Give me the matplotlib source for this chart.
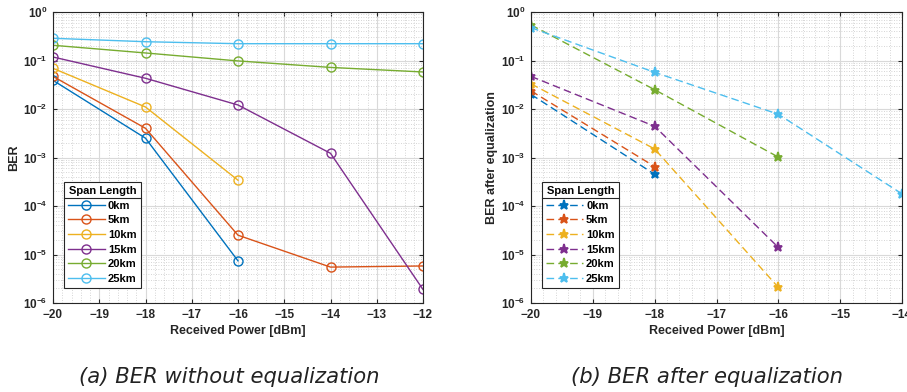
import matplotlib
matplotlib.use("Agg")
import matplotlib.pyplot as plt
from matplotlib.lines import Line2D
from matplotlib.ticker import LogLocator, NullFormatter, MultipleLocator

plt.rcParams['font.family'] = ['Liberation Sans', 'DejaVu Sans']

labels = ['0km', '5km', '10km', '15km', '20km', '25km']
colors = ['#0072BD', '#D95319', '#EDB120', '#7E2F8E', '#77AC30', '#4DBEEE']

# (a) BER without equalization
x_a = {
    '0km': [-20, -18, -16],
    '5km': [-20, -18, -16, -14, -12],
    '10km': [-20, -18, -16],
    '15km': [-20, -18, -16, -14, -12],
    '20km': [-20, -18, -16, -14, -12],
    '25km': [-20, -18, -16, -14, -12],
}
ber_a_0km = [0.039, 0.0025, 7.4e-6]
ber_a_5km = [0.047, 0.004, 2.5e-5, 5.5e-6, 5.8e-6]
ber_a_10km = [0.069, 0.011, 3.4e-4]
ber_a_15km = [0.118, 0.043, 0.0121, 0.00122, 1.9e-6]
ber_a_20km = [0.206, 0.143, 0.098, 0.072, 0.058]
ber_a_25km = [0.287, 0.244, 0.222, 0.222, 0.222]
ber_a = [ber_a_0km, ber_a_5km, ber_a_10km, ber_a_15km, ber_a_20km, ber_a_25km]

# (b) BER after equalization
x_b = {
    '0km': [-20, -18],
    '5km': [-20, -18],
    '10km': [-20, -18, -16],
    '15km': [-20, -18, -16],
    '20km': [-20, -18, -16],
    '25km': [-20, -18, -16, -14],
}
ber_b_0km = [0.020, 4.5e-4]
ber_b_5km = [0.0236, 6.5e-4]
ber_b_10km = [0.033, 0.0015, 2.1e-6]
ber_b_15km = [0.047, 0.0044, 1.4e-5]
ber_b_20km = [0.54, 0.025, 1.02e-3]
ber_b_25km = [0.475, 0.057, 0.0078, 1.78e-4]
ber_b = [ber_b_0km, ber_b_5km, ber_b_10km, ber_b_15km, ber_b_20km, ber_b_25km]

fig = plt.figure(figsize=(9.07, 3.92), dpi=100)
ax1 = fig.add_axes([53/907, 1-303/392, 370/907, 291/392])
ax2 = fig.add_axes([531/907, 1-303/392, 371/907, 291/392])

for lab, c, y in zip(labels, colors, ber_a):
    ax1.plot(x_a[lab], y, '-', color=c, marker='o', markersize=6.5,
             markerfacecolor='none', markeredgewidth=1.0, linewidth=1.0, label=lab)
for lab, c, y in zip(labels, colors, ber_b):
    ax2.plot(x_b[lab], y, '--', color=c, marker='*', markersize=6.5,
             markeredgewidth=1.3, linewidth=1.0, dashes=(5.5, 3), label=lab)

edge = '#262626'
legends = []
for ax, xmax, ylab in [(ax1, -12, 'BER'), (ax2, -14, 'BER after equalization')]:
    ax.set_yscale('log')
    ax.set_ylim(1e-6, 1)
    ax.set_xlim(-20, xmax)
    ax.xaxis.set_major_locator(MultipleLocator(1))
    ax.yaxis.set_major_locator(LogLocator(base=10, numticks=10))
    ax.yaxis.set_minor_locator(LogLocator(base=10, subs=range(2, 10), numticks=20))
    ax.yaxis.set_minor_formatter(NullFormatter())
    ax.xaxis.set_minor_locator(MultipleLocator(0.2))
    ax.grid(True, which='major', color='#d9d9d9', linewidth=0.8)
    ax.grid(True, which='minor', color='#c8c8c8', linestyle=(0, (1, 2)), linewidth=0.6)
    ax.tick_params(which='both', direction='in', top=True, right=True, colors=edge,
                   labelsize=8.5, length=3, pad=4)
    ax.tick_params(which='minor', length=0)
    for s in ax.spines.values():
        s.set_color(edge)
        s.set_linewidth(0.8)
    ax.set_xlabel('Received Power [dBm]', fontsize=9, fontweight='bold', color=edge, labelpad=3)
    ax.set_ylabel(ylab, fontsize=9, fontweight='bold', color=edge, labelpad=2)
    ax.set_axisbelow(True)
    leg = ax.legend(loc='lower left', bbox_to_anchor=(0.03, 0.052), title='Span Length',
                    fontsize=8, title_fontsize=8, handlelength=3.3, handletextpad=0.3,
                    labelspacing=0.42, borderpad=0.35, fancybox=False, edgecolor=edge,
                    framealpha=1, borderaxespad=0)
    leg.get_title().set_fontweight('bold')
    for t in leg.get_texts():
        t.set_fontweight('bold')
    leg.get_frame().set_linewidth(0.8)
    legends.append(leg)

for ax in (ax1, ax2):
    for lbl in ax.get_xticklabels() + ax.get_yticklabels():
        lbl.set_fontweight('bold')

fig.text(229/907, 1-377/392, '(a) BER without equalization', ha='center', va='center',
         fontsize=15.2, style='italic', family='DejaVu Sans', color='#222222')
fig.text(707/907, 1-377/392, '(b) BER after equalization', ha='center', va='center',
         fontsize=15.2, style='italic', family='DejaVu Sans', color='#222222')

# separator line under the legend titles (MATLAB style)
fig.canvas.draw()
r = fig.canvas.get_renderer()
inv = fig.transFigure.inverted()
for leg in legends:
    fb = leg.get_frame().get_window_extent(r)
    tb = leg.get_title().get_window_extent(r)
    ysep = tb.y0 - 2
    (x0, y0) = inv.transform((fb.x0, ysep))
    (x1, _) = inv.transform((fb.x1, ysep))
    fig.add_artist(Line2D([x0, x1], [y0, y0], color=edge, linewidth=0.8,
                          transform=fig.transFigure))

fig.savefig('out.png', dpi=100)
